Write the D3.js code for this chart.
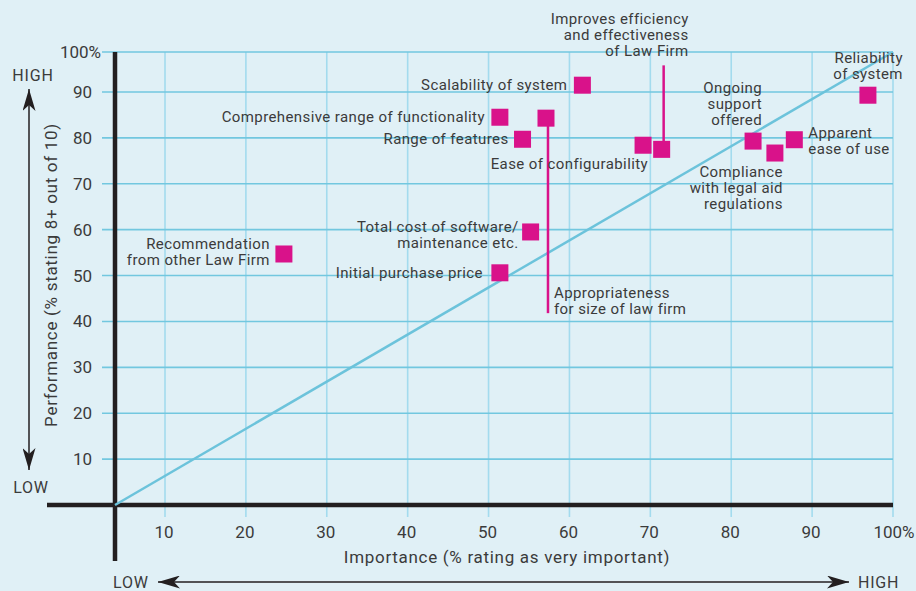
<!DOCTYPE html>
<html>
<head>
<meta charset="utf-8">
<script src="https://cdn.jsdelivr.net/npm/d3@7"></script>
<style>
  body { margin: 0; background: #e0f0f6; }
  svg text { font-family: Roboto, "Noto Sans", sans-serif; fill: #3b3b3b; }
</style>
</head>
<body>
<div class="chart"></div>
<script>
var svgWidth = 916;
var svgHeight = 591;

// Data
var factors = [
  "Recommendation\nfrom other Law Firm",
  "Initial purchase price",
  "Total cost of software/\nmaintenance etc.",
  "Scalability of system",
  "Comprehensive range of functionality",
  "Appropriateness\nfor size of law firm",
  "Range of features",
  "Ease of configurability",
  "Improves efficiency\nand effectiveness\nof Law Firm",
  "Ongoing\nsupport\noffered",
  "Compliance\nwith legal aid\nregulations",
  "Apparent\nease of use",
  "Reliability\nof system"
];
var importance = [24.7, 51.4, 55.2, 61.6, 51.4, 57.1, 54.2, 69.1, 71.4, 82.7, 85.4, 87.8, 96.9];
var performance = [54.7, 50.6, 59.5, 91.7, 84.5, 84.3, 79.7, 78.4, 77.5, 79.3, 76.7, 79.6, 89.3];

var xTicks = [10, 20, 30, 40, 50, 60, 70, 80, 90, 100];
var yTicks = [10, 20, 30, 40, 50, 60, 70, 80, 90, 100];

// label placement: anchor, dx, first baseline dy (px), leader line length
var labelLayout = [
  { anchor: "end", dx: -14, dy: -5 },
  { anchor: "end", dx: -17, dy: 5 },
  { anchor: "end", dx: -12, dy: 0 },
  { anchor: "end", dx: -15, dy: 5 },
  { anchor: "end", dx: -15, dy: 5 },
  { anchor: "start", dx: 8, dy: 180, lead: 195, lx: 2 },
  { anchor: "end", dx: -14, dy: 5 },
  { anchor: "end", dx: 5, dy: 24 },
  { anchor: "end", dx: 27, dy: -125, lead: -84, lx: 2 },
  { anchor: "end", dx: 9, dy: -48 },
  { anchor: "end", dx: 8, dy: 24 },
  { anchor: "start", dx: 14, dy: -2 },
  { anchor: "end", dx: 35, dy: -32 }
];

var svg = d3.select(".chart")
  .append("svg")
  .attr("width", svgWidth)
  .attr("height", svgHeight);

svg.append("rect")
  .attr("width", svgWidth)
  .attr("height", svgHeight)
  .attr("fill", "#e0f0f6");

// stylised scales: axis origin is pulled in, top band is squeezed
var x = d3.scaleLinear().domain([0, 10, 100]).range([115, 165, 893]);
var y = d3.scaleLinear().domain([0, 90, 100]).range([505, 92, 52]);

// grid
svg.append("g")
  .selectAll("line")
  .data(xTicks)
  .enter()
  .append("line")
  .attr("x1", d => x(d))
  .attr("x2", d => x(d))
  .attr("y1", y(100))
  .attr("y2", 517)
  .attr("stroke", "#a3dbee")
  .attr("stroke-width", 1.6);

svg.append("g")
  .selectAll("line")
  .data(yTicks)
  .enter()
  .append("line")
  .attr("x1", 102)
  .attr("x2", x(100))
  .attr("y1", d => y(d))
  .attr("y2", d => y(d))
  .attr("stroke", "#72c7df")
  .attr("stroke-width", 1.6);

// black axes
svg.append("line")
  .attr("x1", 47).attr("x2", x(100))
  .attr("y1", y(0)).attr("y2", y(0))
  .attr("stroke", "#231f20").attr("stroke-width", 4.5);

svg.append("line")
  .attr("x1", x(0)).attr("x2", x(0))
  .attr("y1", y(100)).attr("y2", 561)
  .attr("stroke", "#231f20").attr("stroke-width", 4.5);

// diagonal
svg.append("line")
  .attr("x1", x(0)).attr("y1", y(0))
  .attr("x2", x(100)).attr("y2", y(100))
  .attr("stroke", "#6cc3db")
  .attr("stroke-width", 2.5);

// tick labels
svg.append("g")
  .selectAll("text")
  .data(yTicks)
  .enter()
  .append("text")
  .attr("x", d => d === 100 ? 101 : 92)
  .attr("y", d => y(d) + 6)
  .attr("text-anchor", "end")
  .style("font-size", "17px")
  .text(d => d === 100 ? "100%" : d);

svg.append("g")
  .selectAll("text")
  .data(xTicks)
  .enter()
  .append("text")
  .attr("x", d => x(d) + (d === 100 ? 1 : -1))
  .attr("y", 538)
  .attr("text-anchor", "middle")
  .style("font-size", "17px")
  .text(d => d === 100 ? "100%" : d);

// axis titles
svg.append("text")
  .attr("x", 507)
  .attr("y", 563)
  .attr("text-anchor", "middle")
  .style("font-size", "17px")
  .style("letter-spacing", "0.7px")
  .text("Importance (% rating as very important)");

svg.append("text")
  .attr("transform", "translate(57, 275) rotate(-90)")
  .attr("text-anchor", "middle")
  .style("font-size", "17px")
  .style("letter-spacing", "0.7px")
  .text("Performance  (% stating 8+ out of 10)");

// HIGH / LOW arrows
var defs = svg.append("defs");
defs.append("marker")
  .attr("id", "head")
  .attr("viewBox", "0 0 22 13")
  .attr("refX", 22).attr("refY", 6.5)
  .attr("markerWidth", 22).attr("markerHeight", 13)
  .attr("markerUnits", "userSpaceOnUse")
  .attr("orient", "auto-start-reverse")
  .append("path")
  .attr("d", "M0,0 L22,6.5 L0,13 L6,6.5 Z")
  .attr("fill", "#231f20");

svg.append("line")
  .attr("x1", 29).attr("x2", 29)
  .attr("y1", 89).attr("y2", 470)
  .attr("stroke", "#231f20").attr("stroke-width", 1.5)
  .attr("marker-start", "url(#head)")
  .attr("marker-end", "url(#head)");

svg.append("line")
  .attr("x1", 158).attr("x2", 849)
  .attr("y1", 582).attr("y2", 582)
  .attr("stroke", "#231f20").attr("stroke-width", 1.5)
  .attr("marker-start", "url(#head)")
  .attr("marker-end", "url(#head)");

var hl = [
  { t: "HIGH", x: 33, y: 81, a: "middle" },
  { t: "LOW", x: 31, y: 493, a: "middle" },
  { t: "LOW", x: 113, y: 588, a: "start" },
  { t: "HIGH", x: 858, y: 588, a: "start" }
];
svg.append("g")
  .selectAll("text")
  .data(hl)
  .enter()
  .append("text")
  .attr("x", d => d.x)
  .attr("y", d => d.y)
  .attr("text-anchor", d => d.a)
  .style("font-size", "16px")
  .style("letter-spacing", "0.8px")
  .text(d => d.t);

// points
var points = factors.map(function (f, i) {
  return { name: f, imp: importance[i], perf: performance[i], lay: labelLayout[i] };
});

var boxes = svg.selectAll(".pt")
  .data(points)
  .enter()
  .append("g")
  .attr("class", "pt")
  .attr("transform", d => "translate(" + x(d.imp) + "," + y(d.perf) + ")");

boxes.filter(d => d.lay.lead)
  .append("line")
  .attr("x1", d => d.lay.lx).attr("x2", d => d.lay.lx)
  .attr("y1", 0)
  .attr("y2", d => d.lay.lead)
  .attr("stroke", "#d9128a")
  .attr("stroke-width", 2.5);

boxes.append("rect")
  .attr("x", -8.5).attr("y", -8.5)
  .attr("width", 17).attr("height", 17)
  .attr("fill", "#d9128a");

boxes.append("text")
  .attr("text-anchor", d => d.lay.anchor)
  .style("font-size", "15px")
  .style("letter-spacing", "0.4px")
  .each(function (d) {
    var t = d3.select(this);
    d.name.split("\n").forEach(function (line, k) {
      t.append("tspan")
        .attr("x", d.lay.dx)
        .attr("y", d.lay.dy + k * 16)
        .text(line);
    });
  });
</script>
</body>
</html>
